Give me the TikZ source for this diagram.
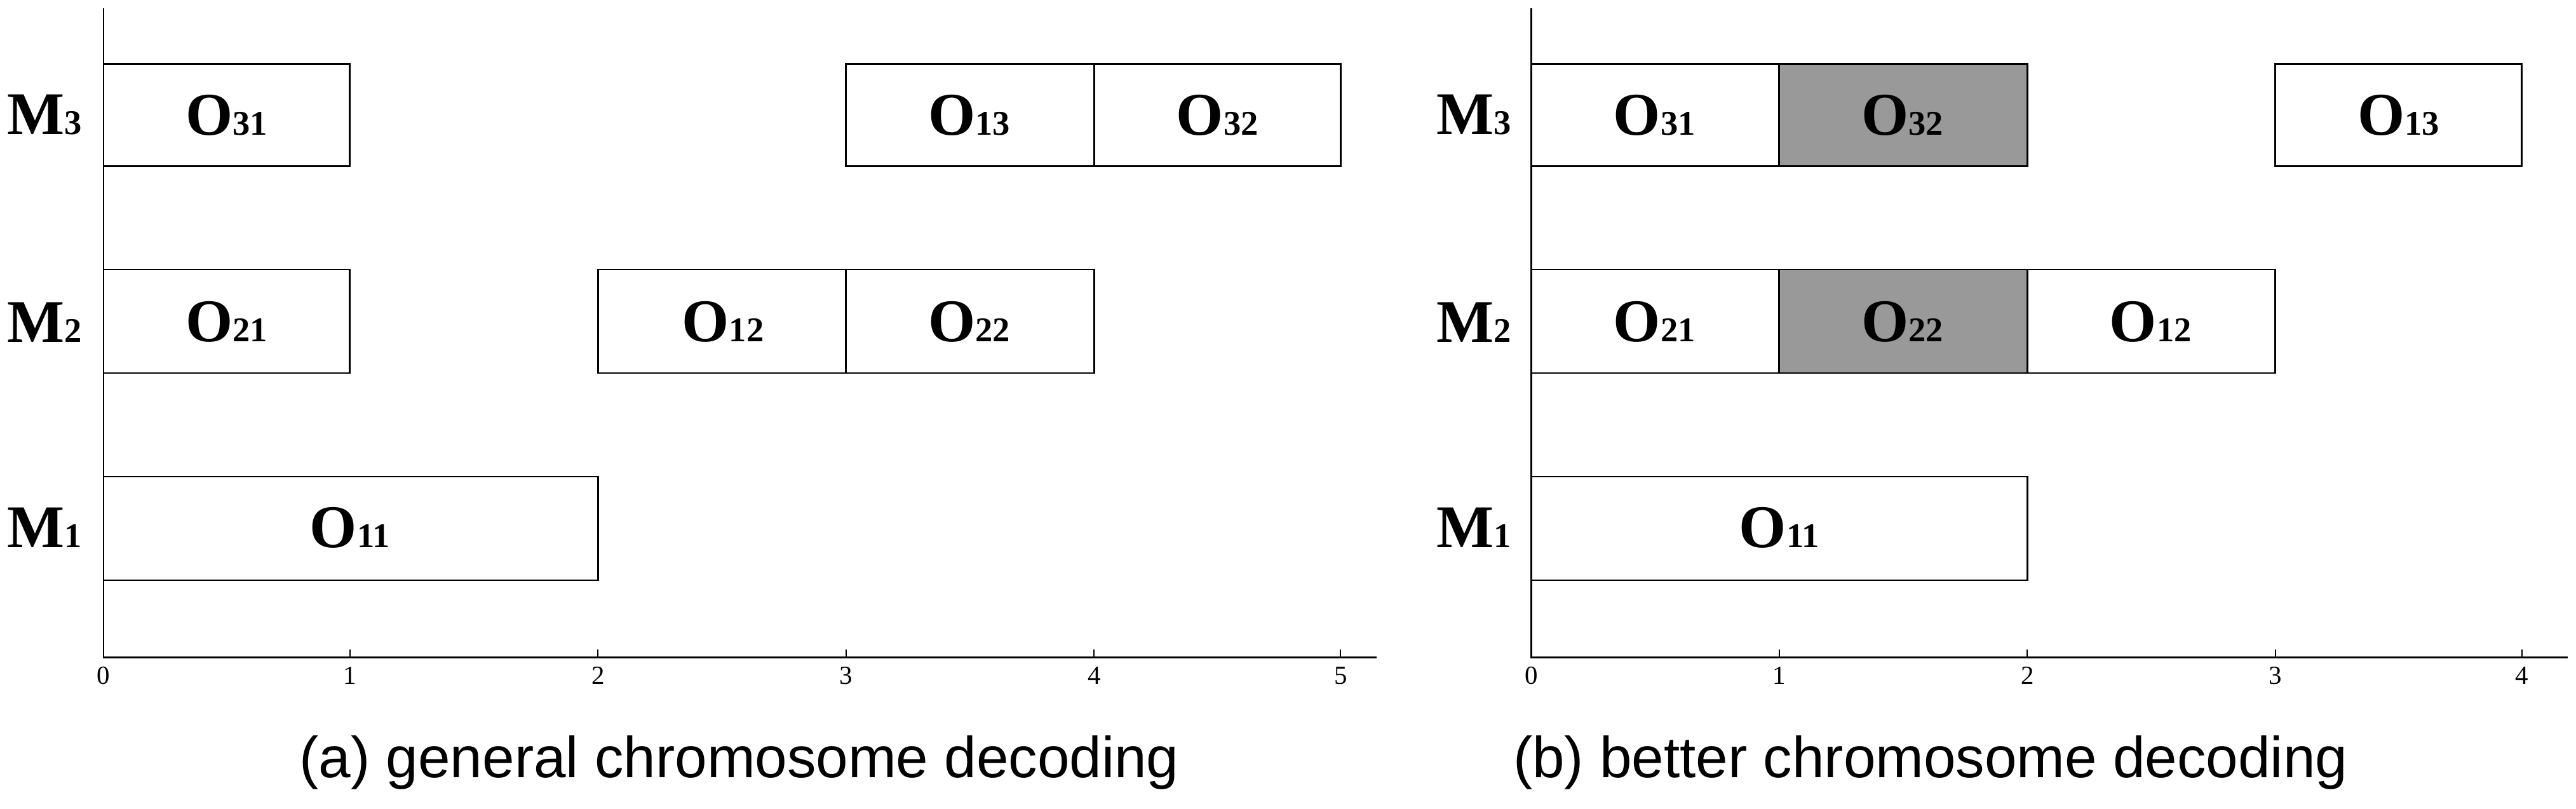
\documentclass[tikz,border=0pt]{standalone}
\usepackage{fontspec}
\setmainfont{Liberation Serif}
\setsansfont{Liberation Sans}
\begin{document}
\begin{tikzpicture}[x=0.02cm,y=-0.02cm,
  bar/.style={draw=black,line width=0.6pt,fill=white},
  gbar/.style={draw=black,line width=0.6pt,fill=black!40},
  op/.style={font=\fontsize{21}{24}\selectfont\bfseries},
  mach/.style={font=\fontsize{21}{24}\selectfont\bfseries},
  ticklbl/.style={font=\fontsize{9}{10}\selectfont},
  captxt/.style={font=\sffamily\fontsize{20}{24}\selectfont}]
\useasboundingbox (0,0) rectangle (1568,492);
\newcommand{\Op}[2]{O\raisebox{0pt}{\fontsize{12}{14}\selectfont #1#2}}
% left chart
\draw[line width=0.6pt] (63,5) -- (63,400) -- (838,400);
\foreach \i/\x in {0/63,1/213,2/364,3/515,4/666,5/816}{
  \draw (\x,400) -- (\x,395);
  \node[ticklbl] (la\i) at (\x,411) {\i};}
\node[mach] (am3) at (27,70) {M\fontsize{12}{14}\selectfont 3};
\node[mach] (am2) at (27,196) {M\fontsize{12}{14}\selectfont 2};
\node[mach] (am1) at (27,321) {M\fontsize{12}{14}\selectfont 1};
\draw[bar] (63,39) rectangle (213,101); \node[op] (a31) at (138,70) {\Op31};
\draw[bar] (515,39) rectangle (666,101); \node[op] (a13) at (590,70) {\Op13};
\draw[bar] (666,39) rectangle (816,101); \node[op] (a32) at (741,70) {\Op32};
\draw[bar] (63,164) rectangle (213,227); \node[op] (a21) at (138,196) {\Op21};
\draw[bar] (364,164) rectangle (515,227); \node[op] (a12) at (440,196) {\Op12};
\draw[bar] (515,164) rectangle (666,227); \node[op] (a22) at (590,196) {\Op22};
\draw[bar] (63,290) rectangle (364,353); \node[op] (a11) at (213,321) {\Op11};
\node[captxt] (capa) at (450,464) {(a) general chromosome decoding};
% right chart
\draw[line width=0.6pt] (932,5) -- (932,400) -- (1563,400);
\foreach \i/\x in {0/932,1/1083,2/1234,3/1385,4/1535}{
  \draw (\x,400) -- (\x,395);
  \node[ticklbl] (lb\i) at (\x,411) {\i};}
\node[mach] (bm3) at (897,70) {M\fontsize{12}{14}\selectfont 3};
\node[mach] (bm2) at (897,196) {M\fontsize{12}{14}\selectfont 2};
\node[mach] (bm1) at (897,321) {M\fontsize{12}{14}\selectfont 1};
\draw[bar] (932,39) rectangle (1083,101); \node[op] (b31) at (1007,70) {\Op31};
\draw[gbar] (1083,39) rectangle (1234,101); \node[op] (b32) at (1158,70) {\Op32};
\draw[bar] (1385,39) rectangle (1535,101); \node[op] (b13) at (1460,70) {\Op13};
\draw[bar] (932,164) rectangle (1083,227); \node[op] (b21) at (1007,196) {\Op21};
\draw[gbar] (1083,164) rectangle (1234,227); \node[op] (b22) at (1158,196) {\Op22};
\draw[bar] (1234,164) rectangle (1385,227); \node[op] (b12) at (1309,196) {\Op12};
\draw[bar] (932,290) rectangle (1234,353); \node[op] (b11) at (1083,321) {\Op11};
\node[captxt] (capb) at (1175,464) {(b) better chromosome decoding};
\end{tikzpicture}
\end{document}
